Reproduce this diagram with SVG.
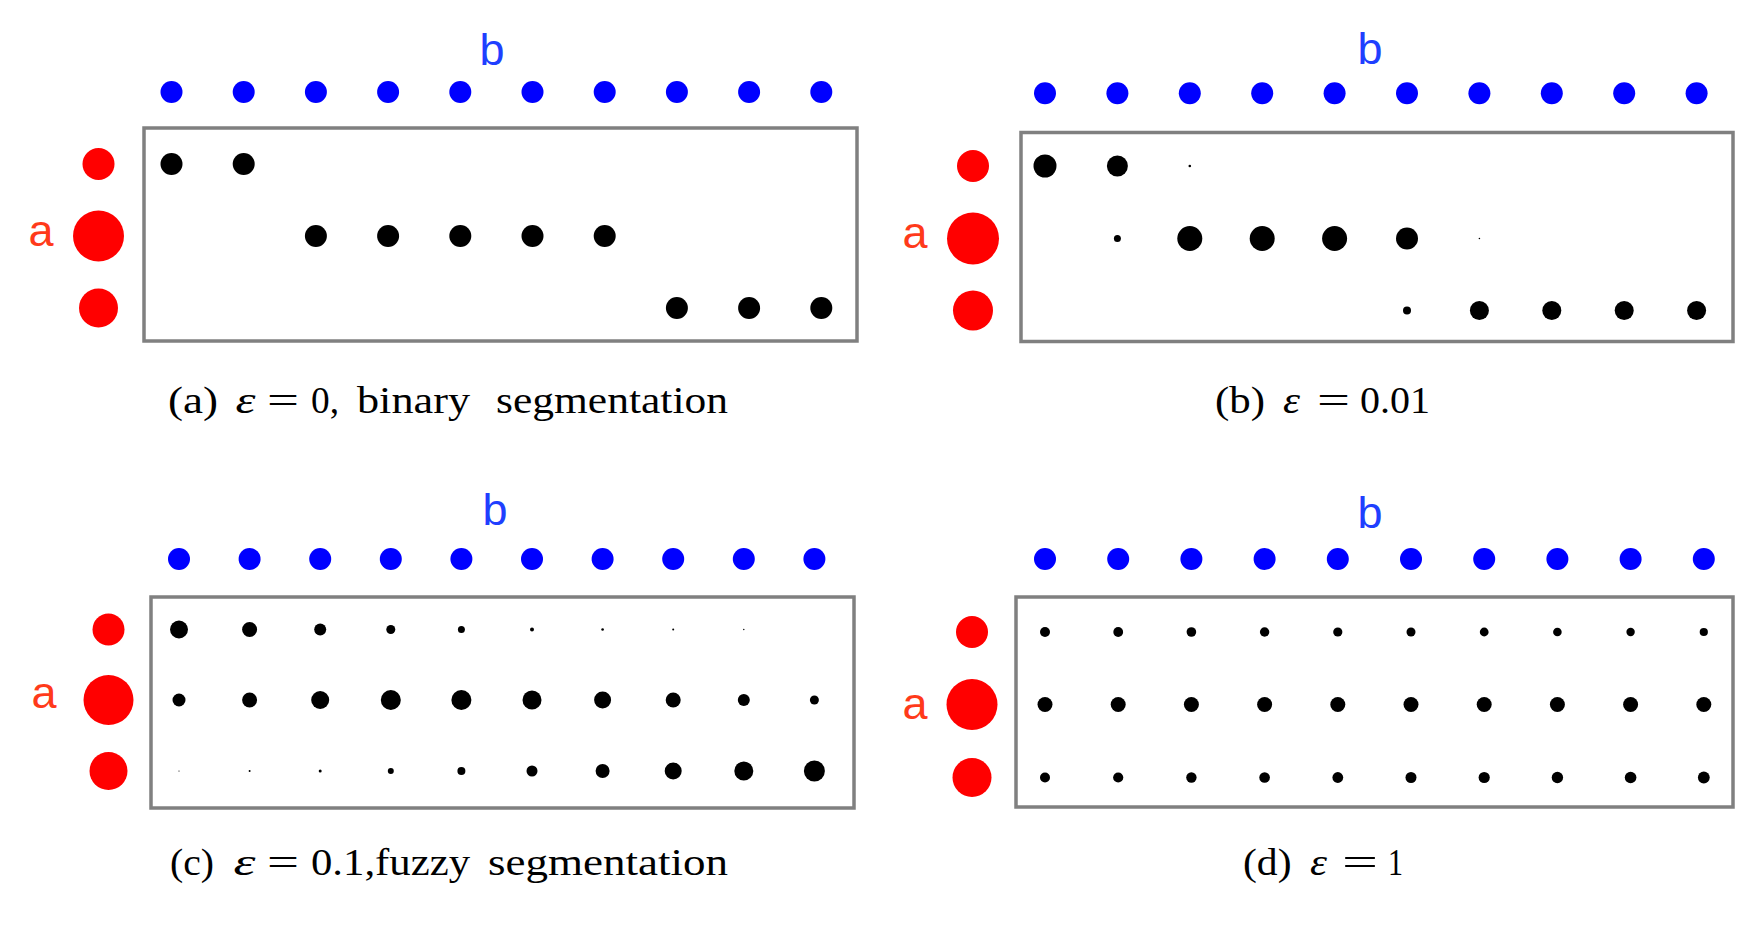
<svg xmlns="http://www.w3.org/2000/svg" width="1762" height="944" viewBox="0 0 1762 944">
<defs>
<style>
.bg{fill:#ffffff}
.blue{fill:#0000ff}
.red{fill:#ff0000}
.k{fill:#000000}
.box{fill:none;stroke:#808080;stroke-width:3.5}
.lb{font-family:"Liberation Sans",Arial,sans-serif;font-size:45px;fill:#1f3fff;text-anchor:middle}
.la{font-family:"Liberation Sans",Arial,sans-serif;font-size:45px;fill:#ff3a1a;text-anchor:middle}
.cap{font-family:"Liberation Serif","Times New Roman",serif;font-size:38px;fill:#000000}
.eps{font-style:italic}
</style>
</defs>
<rect class="bg" x="0" y="0" width="1762" height="944"/>

<g id="panel-a">
  <text class="lb" x="492" y="65">b</text>
  <g id="a-blue" class="blue">
    <circle cx="171.5" cy="92" r="11"/><circle cx="243.7" cy="92" r="11"/><circle cx="315.9" cy="92" r="11"/><circle cx="388.1" cy="92" r="11"/><circle cx="460.3" cy="92" r="11"/><circle cx="532.5" cy="92" r="11"/><circle cx="604.7" cy="92" r="11"/><circle cx="676.9" cy="92" r="11"/><circle cx="749.1" cy="92" r="11"/><circle cx="821.3" cy="92" r="11"/>
  </g>
  <text class="la" x="41" y="246">a</text>
  <g id="a-red" class="red">
    <circle cx="98.5" cy="164" r="16"/><circle cx="98.5" cy="236" r="25.5"/><circle cx="98.5" cy="308" r="19.5"/>
  </g>
  <rect class="box" x="144" y="128" width="713" height="213"/>
  <g id="a-black" class="k">
    <circle cx="171.5" cy="164" r="11"/><circle cx="243.7" cy="164" r="11"/>
    <circle cx="315.9" cy="236" r="11"/><circle cx="388.1" cy="236" r="11"/><circle cx="460.3" cy="236" r="11"/><circle cx="532.5" cy="236" r="11"/><circle cx="604.7" cy="236" r="11"/>
    <circle cx="676.9" cy="308" r="11"/><circle cx="749.1" cy="308" r="11"/><circle cx="821.3" cy="308" r="11"/>
  </g>
  <g id="a-caption" class="cap">
    <text x="168" y="413" textLength="50" lengthAdjust="spacingAndGlyphs">(a)</text>
    <text class="eps" x="235.5" y="413" textLength="20" lengthAdjust="spacingAndGlyphs">ε</text>
    <text x="267" y="413" textLength="32" lengthAdjust="spacingAndGlyphs">=</text>
    <text x="311" y="413" textLength="28" lengthAdjust="spacingAndGlyphs">0,</text>
    <text x="357" y="413" textLength="113" lengthAdjust="spacingAndGlyphs">binary</text>
    <text x="496" y="413" textLength="232" lengthAdjust="spacingAndGlyphs">segmentation</text>
  </g>
</g>

<g id="panel-b">
  <text class="lb" x="1370" y="64">b</text>
  <g id="b-blue" class="blue">
    <circle cx="1045" cy="93.3" r="11"/><circle cx="1117.4" cy="93.3" r="11"/><circle cx="1189.8" cy="93.3" r="11"/><circle cx="1262.2" cy="93.3" r="11"/><circle cx="1334.6" cy="93.3" r="11"/><circle cx="1407" cy="93.3" r="11"/><circle cx="1479.4" cy="93.3" r="11"/><circle cx="1551.8" cy="93.3" r="11"/><circle cx="1624.2" cy="93.3" r="11"/><circle cx="1696.6" cy="93.3" r="11"/>
  </g>
  <text class="la" x="915" y="248">a</text>
  <g id="b-red" class="red">
    <circle cx="973" cy="166" r="16"/><circle cx="973" cy="238.5" r="26"/><circle cx="973" cy="310.5" r="20"/>
  </g>
  <rect class="box" x="1021" y="132.5" width="712" height="209"/>
  <g id="b-black" class="k">
    <circle cx="1045" cy="166" r="11.5"/><circle cx="1117.4" cy="166" r="10.5"/><circle cx="1189.8" cy="166" r="1.3"/>
    <circle cx="1117.4" cy="238.5" r="3.5"/><circle cx="1189.8" cy="238.5" r="12.5"/><circle cx="1262.2" cy="238.5" r="12.5"/><circle cx="1334.6" cy="238.5" r="12.5"/><circle cx="1407" cy="238.5" r="11"/><circle cx="1479.4" cy="238.5" r="0.8"/>
    <circle cx="1407" cy="310.5" r="4"/><circle cx="1479.4" cy="310.5" r="9.5"/><circle cx="1551.8" cy="310.5" r="9.5"/><circle cx="1624.2" cy="310.5" r="9.5"/><circle cx="1696.6" cy="310.5" r="9.5"/>
  </g>
  <g id="b-caption" class="cap">
    <text x="1215" y="413" textLength="50" lengthAdjust="spacingAndGlyphs">(b)</text>
    <text class="eps" x="1283" y="413" textLength="17" lengthAdjust="spacingAndGlyphs">ε</text>
    <text x="1317" y="413" textLength="33" lengthAdjust="spacingAndGlyphs">=</text>
    <text x="1360" y="413" textLength="70" lengthAdjust="spacingAndGlyphs">0.01</text>
  </g>
</g>

<g id="panel-c">
  <text class="lb" x="495" y="525">b</text>
  <g id="c-blue" class="blue">
    <circle cx="179" cy="559" r="11"/><circle cx="249.6" cy="559" r="11"/><circle cx="320.2" cy="559" r="11"/><circle cx="390.8" cy="559" r="11"/><circle cx="461.4" cy="559" r="11"/><circle cx="532" cy="559" r="11"/><circle cx="602.6" cy="559" r="11"/><circle cx="673.2" cy="559" r="11"/><circle cx="743.8" cy="559" r="11"/><circle cx="814.4" cy="559" r="11"/>
  </g>
  <text class="la" x="44" y="708">a</text>
  <g id="c-red" class="red">
    <circle cx="108.5" cy="629.5" r="16"/><circle cx="108.5" cy="700" r="25"/><circle cx="108.5" cy="771" r="19"/>
  </g>
  <rect class="box" x="151" y="597" width="703" height="211"/>
  <g id="c-black" class="k">
    <circle cx="179" cy="629.5" r="9"/><circle cx="249.6" cy="629.5" r="7.5"/><circle cx="320.2" cy="629.5" r="6"/><circle cx="390.8" cy="629.5" r="4.5"/><circle cx="461.4" cy="629.5" r="3.5"/><circle cx="532" cy="629.5" r="2"/><circle cx="602.6" cy="629.5" r="1.3"/><circle cx="673.2" cy="629.5" r="1"/><circle cx="743.8" cy="629.5" r="0.7"/>
    <circle cx="179" cy="700" r="6.5"/><circle cx="249.6" cy="700" r="7.5"/><circle cx="320.2" cy="700" r="9"/><circle cx="390.8" cy="700" r="10"/><circle cx="461.4" cy="700" r="10"/><circle cx="532" cy="700" r="9.5"/><circle cx="602.6" cy="700" r="8.5"/><circle cx="673.2" cy="700" r="7.5"/><circle cx="743.8" cy="700" r="6"/><circle cx="814.4" cy="700" r="4.5"/>
    <circle cx="179" cy="771" r="0.6"/><circle cx="249.6" cy="771" r="1"/><circle cx="320.2" cy="771" r="1.5"/><circle cx="390.8" cy="771" r="3"/><circle cx="461.4" cy="771" r="4"/><circle cx="532" cy="771" r="5.5"/><circle cx="602.6" cy="771" r="7"/><circle cx="673.2" cy="771" r="8.5"/><circle cx="743.8" cy="771" r="9.5"/><circle cx="814.4" cy="771" r="10.5"/>
  </g>
  <g id="c-caption" class="cap">
    <text x="170" y="875" textLength="44" lengthAdjust="spacingAndGlyphs">(c)</text>
    <text class="eps" x="233.5" y="875" textLength="22" lengthAdjust="spacingAndGlyphs">ε</text>
    <text x="267" y="875" textLength="32" lengthAdjust="spacingAndGlyphs">=</text>
    <text x="311" y="875" textLength="159" lengthAdjust="spacingAndGlyphs">0.1,fuzzy</text>
    <text x="488" y="875" textLength="240" lengthAdjust="spacingAndGlyphs">segmentation</text>
  </g>
</g>

<g id="panel-d">
  <text class="lb" x="1370" y="528">b</text>
  <g id="d-blue" class="blue">
    <circle cx="1045" cy="559" r="11"/><circle cx="1118.2" cy="559" r="11"/><circle cx="1191.4" cy="559" r="11"/><circle cx="1264.6" cy="559" r="11"/><circle cx="1337.8" cy="559" r="11"/><circle cx="1411" cy="559" r="11"/><circle cx="1484.2" cy="559" r="11"/><circle cx="1557.4" cy="559" r="11"/><circle cx="1630.6" cy="559" r="11"/><circle cx="1703.8" cy="559" r="11"/>
  </g>
  <text class="la" x="915" y="719">a</text>
  <g id="d-red" class="red">
    <circle cx="972" cy="632" r="16"/><circle cx="972" cy="704.5" r="25.5"/><circle cx="972" cy="777.5" r="19.5"/>
  </g>
  <rect class="box" x="1016" y="597" width="717" height="210"/>
  <g id="d-black" class="k">
    <circle cx="1045" cy="632" r="5"/><circle cx="1118.2" cy="632" r="4.9"/><circle cx="1191.4" cy="632" r="4.8"/><circle cx="1264.6" cy="632" r="4.7"/><circle cx="1337.8" cy="632" r="4.6"/><circle cx="1411" cy="632" r="4.5"/><circle cx="1484.2" cy="632" r="4.4"/><circle cx="1557.4" cy="632" r="4.3"/><circle cx="1630.6" cy="632" r="4.2"/><circle cx="1703.8" cy="632" r="4.1"/>
    <circle cx="1045" cy="704.5" r="7.5"/><circle cx="1118.2" cy="704.5" r="7.5"/><circle cx="1191.4" cy="704.5" r="7.5"/><circle cx="1264.6" cy="704.5" r="7.5"/><circle cx="1337.8" cy="704.5" r="7.5"/><circle cx="1411" cy="704.5" r="7.5"/><circle cx="1484.2" cy="704.5" r="7.5"/><circle cx="1557.4" cy="704.5" r="7.5"/><circle cx="1630.6" cy="704.5" r="7.5"/><circle cx="1703.8" cy="704.5" r="7.5"/>
    <circle cx="1045" cy="777.5" r="5"/><circle cx="1118.2" cy="777.5" r="5.1"/><circle cx="1191.4" cy="777.5" r="5.2"/><circle cx="1264.6" cy="777.5" r="5.3"/><circle cx="1337.8" cy="777.5" r="5.4"/><circle cx="1411" cy="777.5" r="5.5"/><circle cx="1484.2" cy="777.5" r="5.6"/><circle cx="1557.4" cy="777.5" r="5.7"/><circle cx="1630.6" cy="777.5" r="5.8"/><circle cx="1703.8" cy="777.5" r="5.9"/>
  </g>
  <g id="d-caption" class="cap">
    <text x="1243" y="875" textLength="48.5" lengthAdjust="spacingAndGlyphs">(d)</text>
    <text class="eps" x="1310" y="875" textLength="17" lengthAdjust="spacingAndGlyphs">ε</text>
    <text x="1342" y="875" textLength="36" lengthAdjust="spacingAndGlyphs">=</text>
    <text x="1388" y="875" textLength="15" lengthAdjust="spacingAndGlyphs">1</text>
  </g>
</g>

<g id="connectors"></g>
</svg>
